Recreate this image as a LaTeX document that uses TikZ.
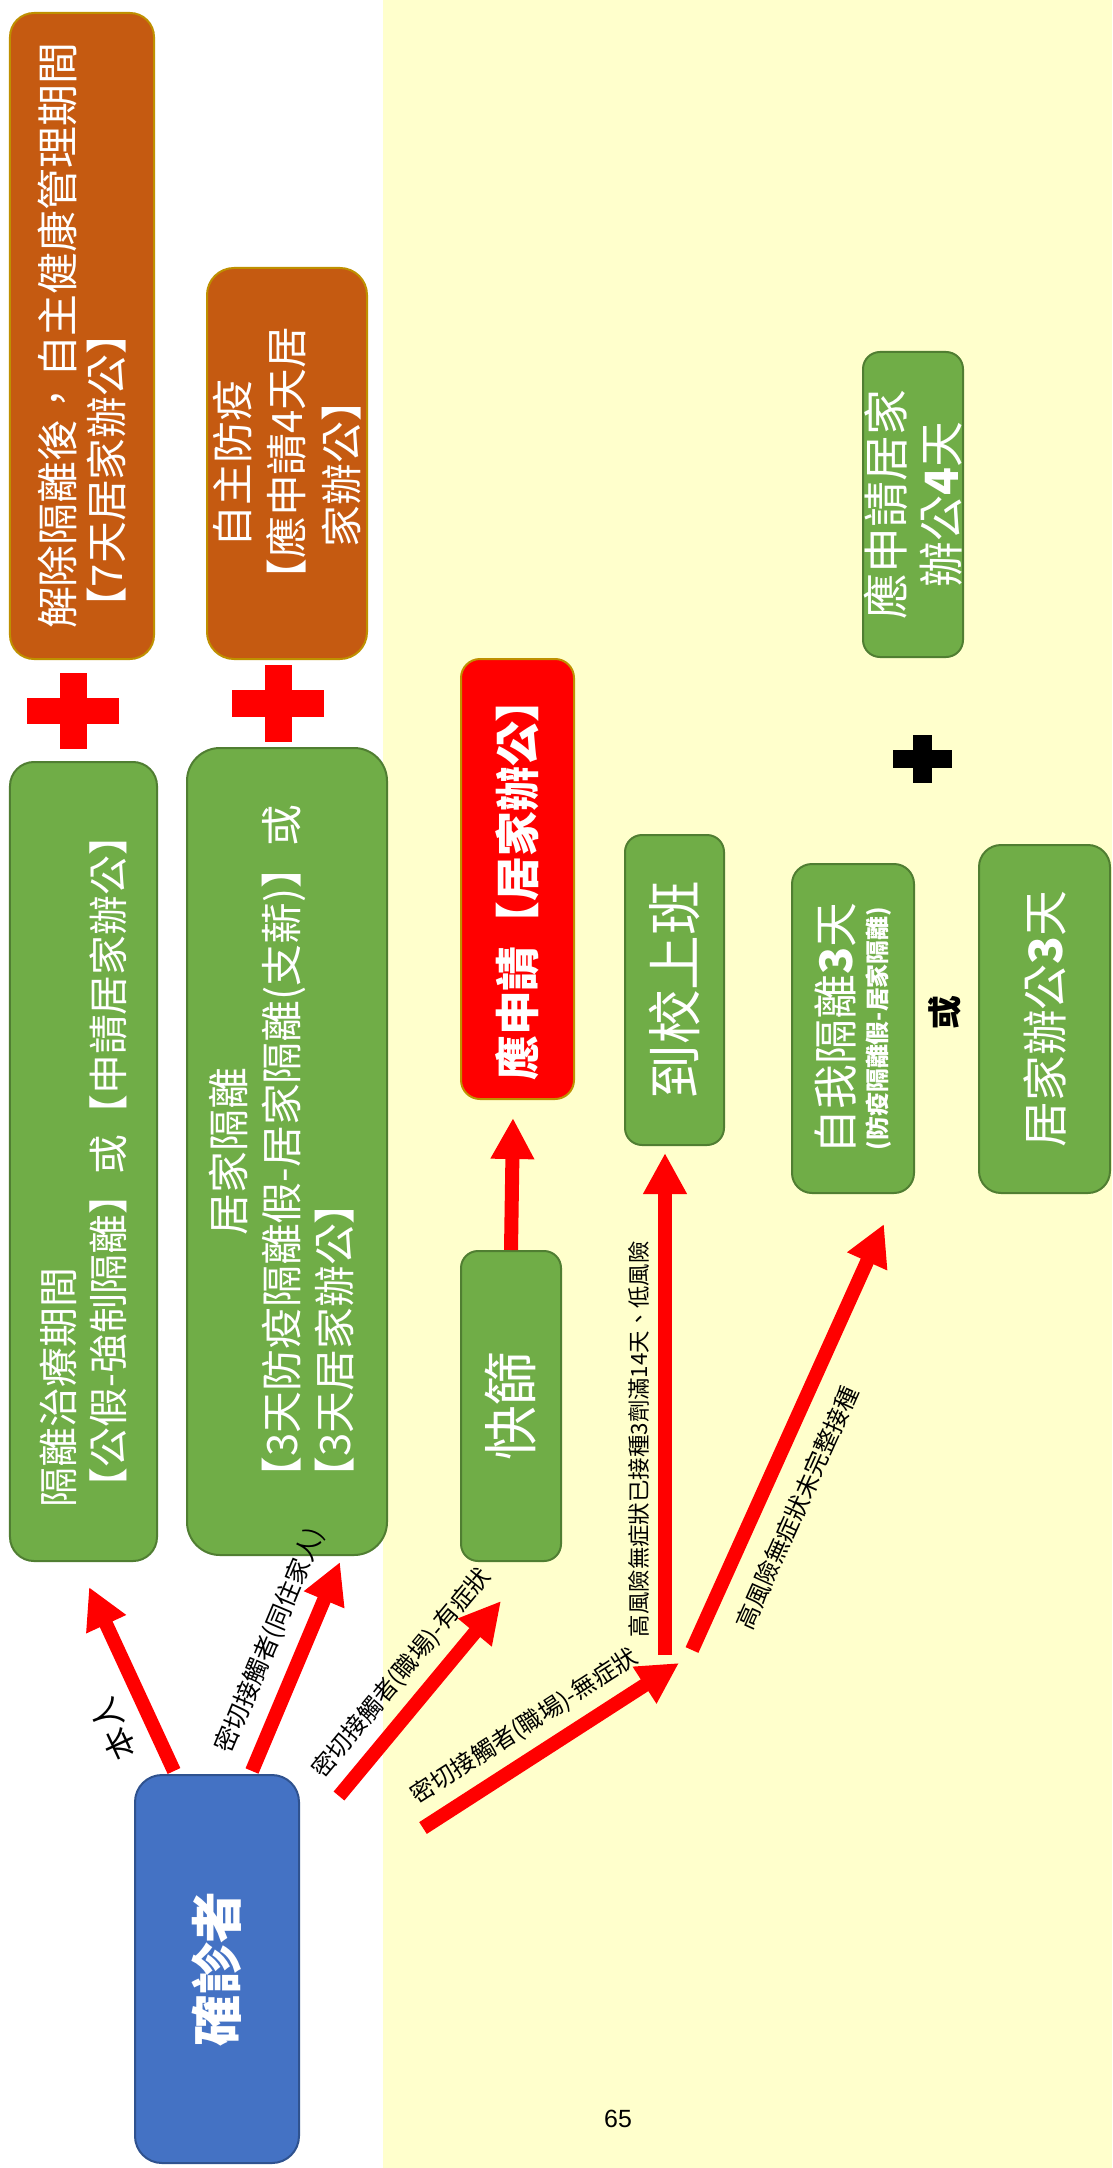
\documentclass[tikz,border=0pt]{standalone}
\usepackage{fontspec}
\setmainfont{Noto Sans CJK TC}
\newfontfamily\pagefont{Liberation Sans}
\usetikzlibrary{arrows.meta}
\definecolor{boxgreen}{HTML}{70AD47}
\definecolor{greenline}{HTML}{507E32}
\definecolor{boxorange}{HTML}{C55A11}
\definecolor{goldline}{HTML}{BF9000}
\definecolor{boxred}{HTML}{FF0000}
\definecolor{boxblue}{HTML}{4472C4}
\definecolor{blueline}{HTML}{2F528F}
\definecolor{paleyellow}{HTML}{FFFFCC}
\definecolor{arrowred}{HTML}{FF0000}

\begin{document}
\begin{tikzpicture}[x=1bp,y=-1bp,
  box/.style={rectangle,draw,line width=2bp,inner sep=0pt,text=white,rotate=90,align=center},
  greenbox/.style={box,fill=boxgreen,draw=greenline},
  orangebox/.style={box,fill=boxorange,draw=goldline},
  redarrow/.style={draw=arrowred,line width=14bp,-{Triangle[length=41bp,width=41bp]}},
  cond/.style={sloped,allow upside down,inner sep=0pt,text=black,font=\fontsize{24}{26}\selectfont}]
\useasboundingbox (0,0) rectangle (1112,2168);
\fill[white] (0,0) rectangle (1112,2168);
\fill[paleyellow] (383,0) rectangle (1112,2168);

% top row
\node(afterrelease)[orangebox,minimum width=646bp,minimum height=144bp,rounded corners=24bp,align=left,font=\fontsize{42}{50}\selectfont] at (82,336){解除隔離後，自主健康管理期間\\【7天居家辦公】};
\node(selfprev)[orangebox,minimum width=391bp,minimum height=160bp,rounded corners=27bp,font=\fontsize{42}{55}\selectfont] at (287,463.5){自主防疫\\【應申請4天居\\家辦公】};
\node(wfh4)[greenbox,minimum width=305bp,minimum height=100bp,rounded corners=17bp,font=\fontsize{46}{55}\selectfont] at (913,504.5){應申請居家\\辦公\textbf{4}天};

% plus signs
\fill[arrowred] (27,698) rectangle (119,724);
\fill[arrowred] (60,673) rectangle (87,749);
\fill[arrowred] (232,690) rectangle (324,717);
\fill[arrowred] (265,665) rectangle (292,742);
\fill[black] (893,750) rectangle (952,768);
\fill[black] (913,735) rectangle (932,783);

% middle row
\node(isoltreat)[greenbox,minimum width=799bp,minimum height=147bp,rounded corners=24bp,align=left,font=\fontsize{40}{50}\selectfont] at (83.5,1161.5){隔離治療期間\\【公假-強制隔離】或【申請居家辦公】};
\node(homeisol)[greenbox,minimum width=807bp,minimum height=200bp,rounded corners=33bp,font=\fontsize{42}{53}\selectfont] at (287,1151.5){\begin{tabular}{@{}l@{}}\multicolumn{1}{@{}c@{}}{居家隔離}\\【3天防疫隔離假-居家隔離(支薪)】或\\【3天居家辦公】\end{tabular}};
\node(wfhred)[box,fill=boxred,draw=goldline,minimum width=440bp,minimum height=113bp,rounded corners=19bp,font=\fontsize{45}{50}\selectfont\bfseries] at (517.5,879){應申請【居家辦公】};
\node(rapidtest)[greenbox,minimum width=310bp,minimum height=100bp,rounded corners=17bp,font=\fontsize{55}{60}\selectfont] at (511,1406){快篩};
\node(toschool)[greenbox,minimum width=310bp,minimum height=99bp,rounded corners=17bp,font=\fontsize{55}{60}\selectfont] at (674.5,990){到校上班};
\node(selfisol)[greenbox,minimum width=329bp,minimum height=122bp,rounded corners=20bp,font=\fontsize{45}{35}\selectfont] at (853,1028.5){自我隔離\textbf{3}天\\{\fontsize{24}{26}\selectfont\bfseries(防疫隔離假-居家隔離)}};
\node(orword)[rotate=90,inner sep=0pt,font=\fontsize{34}{36}\selectfont\bfseries] at (945,1013){或};
\node(wfh3)[greenbox,minimum width=348bp,minimum height=131bp,rounded corners=22bp,font=\fontsize{46}{55}\selectfont] at (1044.5,1019){居家辦公\textbf{3}天};

% bottom
\node(confirmed)[box,fill=boxblue,draw=blueline,minimum width=388bp,minimum height=164bp,rounded corners=27bp,font=\fontsize{52}{60}\selectfont\bfseries] at (217,1969){確診者};
\node(pagenum) at (618,2119){\pagefont\fontsize{25}{30}\selectfont 65};

\coordinate (c3) at (339,1796);
\coordinate (c4) at (423,1828);
\coordinate (fork) at (679,1663);
\coordinate (c6) at (665,1655);
\coordinate (c7) at (692,1650);

\path[redarrow] ([shift={(-43,-3)}]confirmed.east) -- node[cond,pos=0.31,above=16bp,font=\fontsize{32}{34}\selectfont]{本人} ([shift={(5.5,25)}]isoltreat.west);
\path[redarrow] ([shift={(35,-3)}]confirmed.east) -- node[cond,pos=0.56,above=14bp,font=\fontsize{25}{27}\selectfont]{密切接觸者(同住家人)} ([shift={(53,6)}]homeisol.west);
\path[redarrow] (c3) -- node[cond,pos=0.53,above=11bp]{密切接觸者(職場)-有症狀} ([shift={(-10,39)}]rapidtest.west);
\path[redarrow] (c4) -- node[cond,pos=0.46,above=11bp]{密切接觸者(職場)-無症狀} (fork);
\path[redarrow] (rapidtest.east) -- ([shift={(-4.5,18)}]wfhred.west);
\path[redarrow] (c6) -- node[cond,pos=0.43,above=9bp,font=\fontsize{22.5}{25}\selectfont]{高風險無症狀已接種3劑滿14天、低風險} ([shift={(-9.5,7)}]toschool.west);
\path[redarrow] (c7) -- node[cond,pos=0.37,below=19bp]{高風險無症狀未完整接種} ([shift={(31,30)}]selfisol.west);
\end{tikzpicture}
\end{document}
